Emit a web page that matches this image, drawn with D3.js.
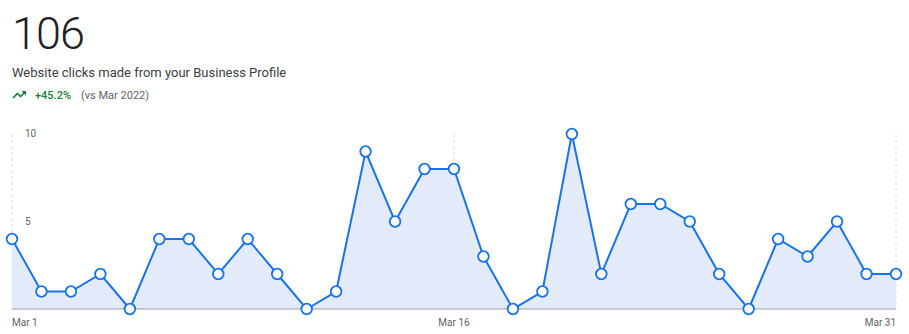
<!DOCTYPE html>
<html>
<head>
<meta charset="utf-8">
<script src="https://cdn.jsdelivr.net/npm/d3@7"></script>
<style>
  body { margin: 0; background: #fff; font-family: Roboto, "Noto Sans", sans-serif; }
  svg { display: block; }
</style>
</head>
<body>
<div id="chart"></div>
<script>
// data
var days = d3.range(1, 32);                      // March 1..31
var clicks = [4, 1, 1, 2, 0, 4, 4, 2, 4, 2, 0, 1, 9, 5, 8,
              8, 3, 0, 1, 10, 2, 6, 6, 5, 2, 0, 4, 3, 5, 2, 2];
var yTicks = [5, 10];
var xTickDays = [1, 16, 31];
var total = "106";
var subtitle = "Website clicks made from your Business Profile";
var change = "+45.2%";
var compare = "(vs Mar 2022)";

var width = 909, height = 334;
var margin = {top: 134, right: 13, bottom: 25, left: 12};

var svg = d3.select("#chart").append("svg")
    .attr("width", width)
    .attr("height", height);

// header
svg.append("text")
    .attr("x", 12).attr("y", 49)
    .style("font-size", "45px")
    .style("font-weight", "300")
    .style("letter-spacing", "-1px")
    .style("fill", "#202124")
    .text(total);

svg.append("text")
    .attr("x", 12).attr("y", 77)
    .style("font-size", "13px")
    .style("fill", "#3c4043")
    .text(subtitle);

// little trending-up arrow
var arrow = svg.append("g").attr("transform", "translate(13,90)");
arrow.append("path")
    .attr("d", "M0,8 L4.5,3.5 L7.5,6.5 L12,2")
    .attr("fill", "none").attr("stroke", "#188038").attr("stroke-width", 1.6);
arrow.append("path")
    .attr("d", "M8.5,1 L13,1 L13,5.5 Z")
    .attr("fill", "#188038");

svg.append("text")
    .attr("x", 35).attr("y", 99)
    .style("font-size", "11px")
    .style("font-weight", "500")
    .style("fill", "#188038")
    .text(change);

svg.append("text")
    .attr("x", 81).attr("y", 99)
    .style("font-size", "11px")
    .style("fill", "#5f6368")
    .text(compare);

// scales
var x = d3.scaleLinear()
    .domain([1, 31])
    .range([margin.left, width - margin.right]);

var y = d3.scaleLinear()
    .domain([0, 10])
    .range([height - margin.bottom, margin.top]);

// vertical dashed grid lines
svg.append("g")
    .selectAll("line")
    .data(xTickDays)
    .enter().append("line")
    .attr("x1", function(d) { return x(d); })
    .attr("x2", function(d) { return x(d); })
    .attr("y1", y(10))
    .attr("y2", y(0))
    .attr("stroke", "#dadce0")
    .attr("stroke-dasharray", "3,3");

// area + line
var area = d3.area()
    .x(function(d, i) { return x(days[i]); })
    .y0(y(0))
    .y1(function(d) { return y(d); });

var line = d3.line()
    .x(function(d, i) { return x(days[i]); })
    .y(function(d) { return y(d); });

svg.append("path")
    .datum(clicks)
    .attr("d", area)
    .attr("fill", "#e3ebfb");

// baseline
svg.append("line")
    .attr("x1", x(1)).attr("x2", x(31))
    .attr("y1", y(0)).attr("y2", y(0))
    .attr("stroke", "#9aa0a6")
    .attr("stroke-width", 1);

svg.append("path")
    .datum(clicks)
    .attr("d", line)
    .attr("fill", "none")
    .attr("stroke", "#1a73e8")
    .attr("stroke-width", 2);

svg.append("g")
    .selectAll("circle")
    .data(clicks)
    .enter().append("circle")
    .attr("cx", function(d, i) { return x(days[i]); })
    .attr("cy", function(d) { return y(d); })
    .attr("r", 5.3)
    .attr("fill", "#fff")
    .attr("stroke", "#1a73e8")
    .attr("stroke-width", 1.8);

// y tick labels
svg.append("g")
    .selectAll("text")
    .data(yTicks)
    .enter().append("text")
    .attr("x", 25)
    .attr("y", function(d) { return y(d) + 3; })
    .style("font-size", "10px")
    .style("fill", "#5f6368")
    .text(function(d) { return d; });

// x tick labels
var fmt = function(d) { return "Mar " + d; };
svg.append("g")
    .selectAll("text")
    .data(xTickDays)
    .enter().append("text")
    .attr("x", function(d) { return x(d); })
    .attr("y", height - 8)
    .attr("text-anchor", function(d, i) {
        return i === 0 ? "start" : (i === xTickDays.length - 1 ? "end" : "middle");
    })
    .style("font-size", "10px")
    .style("fill", "#5f6368")
    .text(fmt);
</script>
</body>
</html>
